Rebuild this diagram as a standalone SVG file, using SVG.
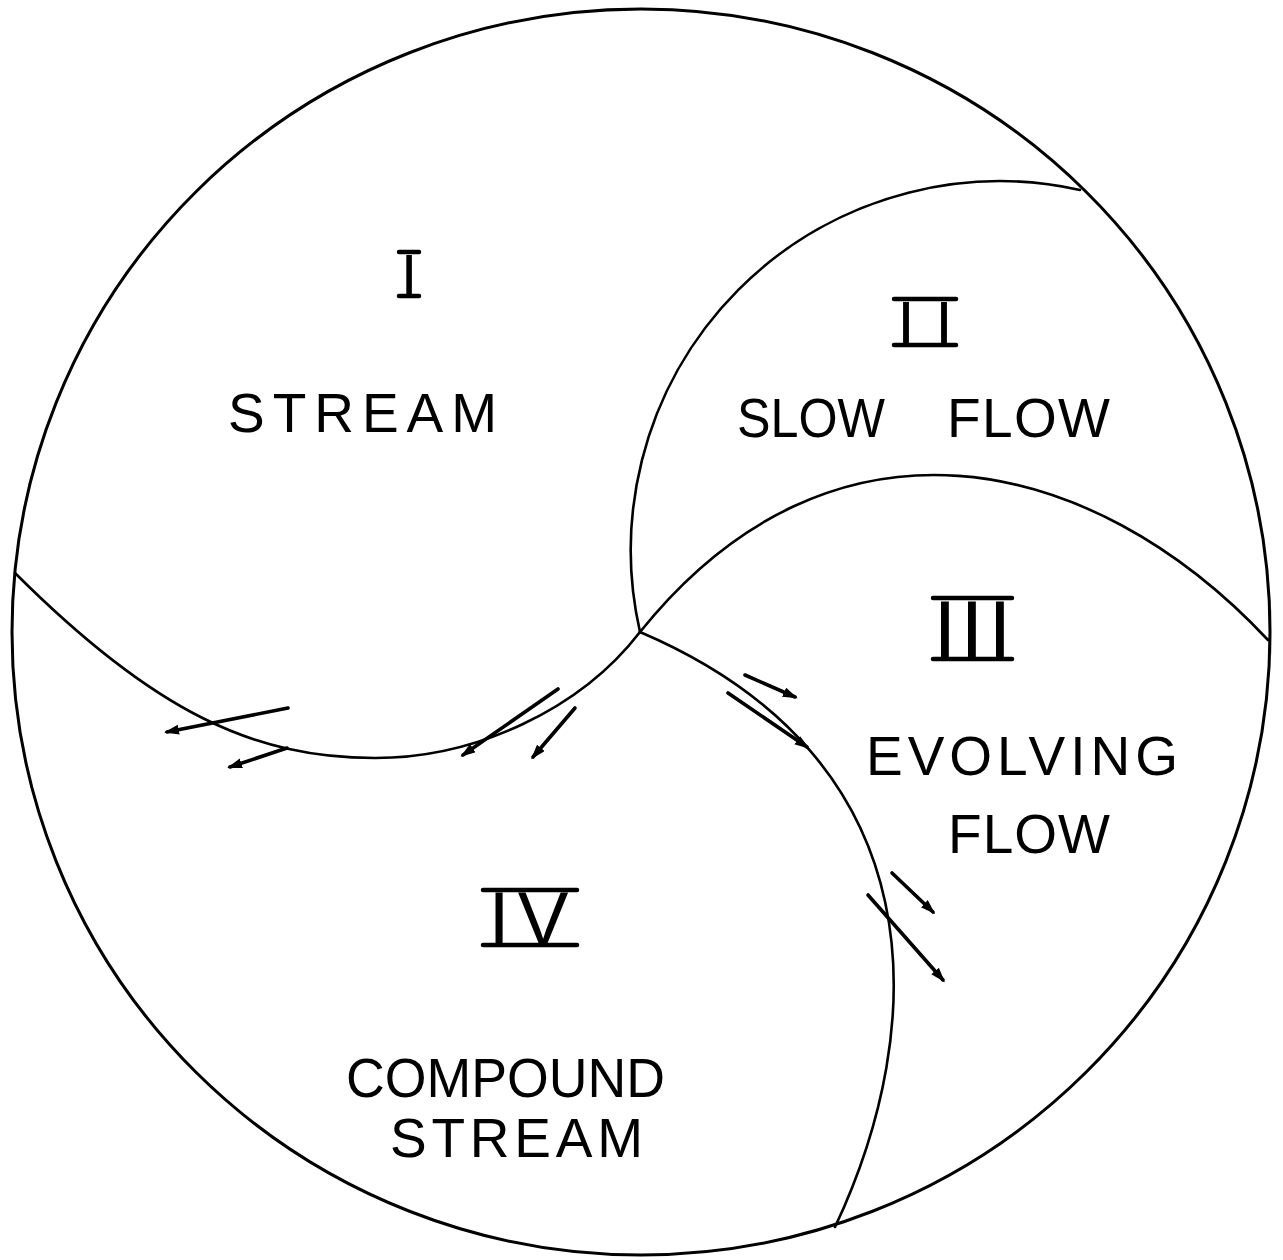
<svg xmlns="http://www.w3.org/2000/svg" width="1283" height="1260" viewBox="0 0 1283 1260">
<style>
.bd{fill:none;stroke:#000;stroke-width:2.6;stroke-linecap:round}
.ar{fill:none;stroke:#000;stroke-width:3.6;stroke-linecap:round}
.lb{font-family:"Liberation Sans",Arial,sans-serif;font-size:55px;fill:#000}
.rn{font-family:"Liberation Sans",Arial,sans-serif;fill:#000;text-anchor:middle}
.bar{stroke:#000;stroke-width:4.5;stroke-linecap:round}
</style>
<defs>
<marker id="ah" markerUnits="userSpaceOnUse" markerWidth="16" markerHeight="12" refX="12" refY="5" orient="auto">
<path d="M0,0 L15,5 L0,10 Z" fill="#000"/>
</marker>
</defs>
<rect width="1283" height="1260" fill="#fff"/>
<g id="outline">
<ellipse cx="641" cy="632" rx="629" ry="623" fill="none" stroke="#000" stroke-width="3"/>
</g>
<g id="boundaries">
<path class="bd" d="M15,573 C155,713 255,758 375,758 C475,758 580,710 640,632"/>
<path class="bd" d="M640,632 A369,369 0 0 1 1080,190"/>
<path class="bd" d="M640,632 C830,395 1090,450 1268,640"/>
<path class="bd" d="M640,632 C940,760 929,1027 835,1227"/>
</g>
<g id="connectors">
<line class="ar" x1="288" y1="708" x2="167" y2="732" marker-end="url(#ah)"/>
<line class="ar" x1="287" y1="748" x2="230" y2="767" marker-end="url(#ah)"/>
<line class="ar" x1="558" y1="689" x2="463" y2="755" marker-end="url(#ah)"/>
<line class="ar" x1="575" y1="708" x2="533" y2="757" marker-end="url(#ah)"/>
<line class="ar" x1="745" y1="675" x2="795" y2="697" marker-end="url(#ah)"/>
<line class="ar" x1="728" y1="693" x2="807" y2="747" marker-end="url(#ah)"/>
<line class="ar" x1="892" y1="873" x2="933" y2="912" marker-end="url(#ah)"/>
<line class="ar" x1="868" y1="895" x2="943" y2="980" marker-end="url(#ah)"/>
</g>
<g id="region-I">
<text class="rn" x="409" y="296" font-size="60">I</text>
<line class="bar" x1="399" y1="252" x2="419" y2="252"/>
<line class="bar" x1="399" y1="296" x2="419" y2="296"/>
<text class="lb" x="228" y="432" textLength="269" lengthAdjust="spacing">STREAM</text>
</g>
<g id="region-II">
<text class="rn" x="906 944" y="345" font-size="63">II</text>
<line class="bar" x1="894" y1="299" x2="956" y2="299"/>
<line class="bar" x1="894" y1="345" x2="956" y2="345"/>
<text class="lb" x="737" y="437" textLength="148" lengthAdjust="spacingAndGlyphs">SLOW</text>
<text class="lb" x="947" y="437" textLength="163" lengthAdjust="spacing">FLOW</text>
</g>
<g id="region-III">
<text class="rn" x="945 972 1000" y="659" font-size="84">III</text>
<line class="bar" x1="933" y1="598" x2="1012" y2="598"/>
<line class="bar" x1="933" y1="659" x2="1012" y2="659"/>
<text class="lb" x="866" y="775" textLength="312" lengthAdjust="spacing">EVOLVING</text>
<text class="lb" x="948" y="853" textLength="162" lengthAdjust="spacing">FLOW</text>
</g>
<g id="region-IV">
<text class="rn" x="499 543" y="945" font-size="76">IV</text>
<line class="bar" x1="483" y1="890" x2="577" y2="890"/>
<line class="bar" x1="483" y1="945" x2="577" y2="945"/>
<text class="lb" x="346" y="1097" textLength="319" lengthAdjust="spacingAndGlyphs">COMPOUND</text>
<text class="lb" x="390" y="1157" textLength="253" lengthAdjust="spacing">STREAM</text>
</g>
</svg>
